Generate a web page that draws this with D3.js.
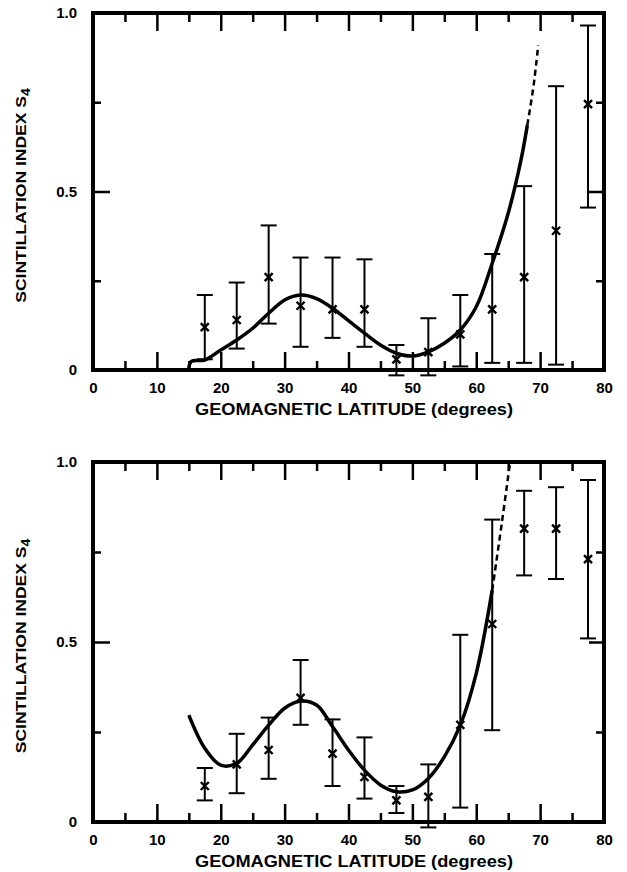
<!DOCTYPE html>
<html lang="en">
<head>
    <meta charset="UTF-8" />
    <title>Scintillation index vs geomagnetic latitude</title>
    <script src="https://d3js.org/d3.v7.min.js"></script>
    <style>
        body { margin: 0; background: #fff; }
        text { font-family: "Liberation Sans", Arial, sans-serif; font-weight: bold; fill: #000; }
    </style>
</head>

<body>
    <script>
        var w = 627;
        var h = 872;

        // Latitude bins (centre of each 5 degree bin)
        var latitudes = [17.5, 22.5, 27.5, 32.5, 37.5, 42.5, 47.5, 52.5, 57.5, 62.5, 67.5, 72.5, 77.5];

        // Upper panel
        var topMean  = [0.12, 0.14, 0.26, 0.18, 0.17, 0.17, 0.03, 0.05, 0.10, 0.17, 0.26, 0.39, 0.745];
        var topUpper = [0.21, 0.245, 0.405, 0.315, 0.315, 0.31, 0.07, 0.145, 0.21, 0.325, 0.515, 0.795, 0.965];
        var topLower = [0.03, 0.06, 0.13, 0.065, 0.09, 0.065, -0.015, -0.015, 0.01, 0.02, 0.02, 0.015, 0.455];
        var topCurveX = [15, 15.4, 17.5, 20, 22.5, 25, 27.5, 30, 32.5, 35, 37.5, 40, 42.5, 45, 47.5, 50, 52.5, 55, 57.5, 60, 62.5, 65, 67, 68];
        var topCurveY = [0.005, 0.024, 0.028, 0.056, 0.084, 0.117, 0.159, 0.196, 0.21, 0.20, 0.173, 0.138, 0.103, 0.07, 0.047, 0.039, 0.051, 0.075, 0.112, 0.177, 0.299, 0.439, 0.588, 0.686];
        var topDashX = [68, 69, 69.7];
        var topDashY = [0.686, 0.80, 0.91];

        // Lower panel
        var botMean  = [0.10, 0.16, 0.20, 0.345, 0.19, 0.125, 0.06, 0.07, 0.27, 0.55, 0.815, 0.815, 0.73];
        var botUpper = [0.15, 0.245, 0.29, 0.45, 0.285, 0.235, 0.10, 0.16, 0.52, 0.84, 0.92, 0.93, 0.95];
        var botLower = [0.06, 0.08, 0.12, 0.27, 0.10, 0.065, 0.025, -0.015, 0.04, 0.255, 0.685, 0.675, 0.51];
        var botCurveX = [15, 17.5, 20, 22.5, 25, 27.5, 30, 32.5, 35, 37.5, 40, 42.5, 45, 47.5, 50, 52.5, 55, 57.5, 60, 62.5];
        var botCurveY = [0.297, 0.205, 0.158, 0.163, 0.214, 0.269, 0.316, 0.336, 0.325, 0.265, 0.20, 0.144, 0.103, 0.084, 0.089, 0.121, 0.181, 0.269, 0.413, 0.644];
        var botDashX = [62.5, 64, 65.3];
        var botDashY = [0.644, 0.83, 1.0];

        // Ticks
        var xMajor = [0, 10, 20, 30, 40, 50, 60, 70, 80];
        var xMinor = [5, 15, 25, 35, 45, 55, 65, 75];
        var yMajor = [0, 0.5, 1.0];
        var yMinor = [0.25, 0.75];
        var yLabels = {"0": "0", "0.5": "0.5", "1": "1.0"};

        var xTitle = "GEOMAGNETIC LATITUDE (degrees)";

        var svg = d3.select("body")
            .append("svg")
            .attr("width", w)
            .attr("height", h);

        var xScale = d3.scaleLinear()
            .domain([0, 80])
            .range([93, 604]);

        function drawPanel(y0, y1, mean, upper, lower, cx, cy, dx, dy) {
            var yScale = d3.scaleLinear()
                .domain([0, 1])
                .range([y0, y1]);

            var g = svg.append("g");

            // bottom axis: major with labels, minor without
            g.append("g")
                .attr("transform", "translate(0," + y0 + ")")
                .call(d3.axisBottom(xScale).tickValues(xMajor).tickSize(-18).tickPadding(12))
                .call(styleAxis);
            g.append("g")
                .attr("transform", "translate(0," + y0 + ")")
                .call(d3.axisBottom(xScale).tickValues(xMinor).tickSize(-9).tickFormat(""))
                .call(styleAxis);

            // top axis ticks (inward)
            g.append("g")
                .attr("transform", "translate(0," + y1 + ")")
                .call(d3.axisTop(xScale).tickValues(xMajor.slice(1, -1)).tickSize(-18).tickFormat(""))
                .call(styleAxis);
            g.append("g")
                .attr("transform", "translate(0," + y1 + ")")
                .call(d3.axisTop(xScale).tickValues(xMinor).tickSize(-9).tickFormat(""))
                .call(styleAxis);

            // left axis
            g.append("g")
                .attr("transform", "translate(93,0)")
                .call(d3.axisLeft(yScale).tickValues(yMajor).tickSize(-17).tickPadding(16)
                    .tickFormat(function(d) { return yLabels[String(d)]; }))
                .call(styleAxis);
            g.append("g")
                .attr("transform", "translate(93,0)")
                .call(d3.axisLeft(yScale).tickValues(yMinor).tickSize(-8).tickFormat(""))
                .call(styleAxis);

            // right axis
            g.append("g")
                .attr("transform", "translate(604,0)")
                .call(d3.axisRight(yScale).tickValues([0.5]).tickSize(-15).tickFormat(""))
                .call(styleAxis);
            g.append("g")
                .attr("transform", "translate(604,0)")
                .call(d3.axisRight(yScale).tickValues(yMinor).tickSize(-8).tickFormat(""))
                .call(styleAxis);

            // frame
            g.append("rect")
                .attr("x", xScale(0))
                .attr("y", y1)
                .attr("width", xScale(80) - xScale(0))
                .attr("height", y0 - y1)
                .attr("fill", "none")
                .attr("stroke", "#000")
                .attr("stroke-width", 4);

            // error bars
            var bars = g.selectAll(".bar")
                .data(latitudes)
                .enter()
                .append("g")
                .attr("class", "bar");

            bars.append("line")
                .attr("x1", function(d) { return xScale(d); })
                .attr("x2", function(d) { return xScale(d); })
                .attr("y1", function(d, i) { return yScale(upper[i]); })
                .attr("y2", function(d, i) { return yScale(lower[i]); })
                .attr("stroke", "#000")
                .attr("stroke-width", 2);

            [upper, lower].forEach(function(arr) {
                bars.append("line")
                    .attr("x1", function(d) { return xScale(d) - 8; })
                    .attr("x2", function(d) { return xScale(d) + 8; })
                    .attr("y1", function(d, i) { return yScale(arr[i]); })
                    .attr("y2", function(d, i) { return yScale(arr[i]); })
                    .attr("stroke", "#000")
                    .attr("stroke-width", 2);
            });

            // x markers
            bars.append("path")
                .attr("d", function(d, i) {
                    var px = xScale(d), py = yScale(mean[i]), s = 4;
                    return "M" + (px - s) + "," + (py - s) + "L" + (px + s) + "," + (py + s) +
                        "M" + (px - s) + "," + (py + s) + "L" + (px + s) + "," + (py - s);
                })
                .attr("stroke", "#000")
                .attr("stroke-width", 2.4)
                .attr("fill", "none");

            // fitted curve
            var line = d3.line()
                .x(function(d) { return xScale(d[0]); })
                .y(function(d) { return yScale(d[1]); })
                .curve(d3.curveCatmullRom.alpha(0.5));

            g.append("path")
                .datum(d3.zip(cx, cy))
                .attr("d", line)
                .attr("fill", "none")
                .attr("stroke", "#000")
                .attr("stroke-width", 3.5);

            g.append("path")
                .datum(d3.zip(dx, dy))
                .attr("d", line)
                .attr("fill", "none")
                .attr("stroke", "#000")
                .attr("stroke-width", 2.5)
                .attr("stroke-dasharray", "6,4");

            // titles
            g.append("text")
                .attr("x", 354)
                .attr("y", y0 + 45)
                .attr("text-anchor", "middle")
                .attr("font-size", 16)
                .attr("textLength", 318)
                .attr("lengthAdjust", "spacingAndGlyphs")
                .text(xTitle);

            // y title, squeezed to the same length as the original lettering
            var yt = g.append("text")
                .attr("text-anchor", "middle")
                .attr("font-size", 15);
            yt.append("tspan").text("SCINTILLATION INDEX S");
            yt.append("tspan").attr("dy", 4).attr("font-size", 12).text("4");
            var len = yt.node().getBBox().width;
            var k = 215 / len;
            yt.attr("transform", "translate(26," + ((y0 + y1) / 2 + 4) + ") rotate(-90) scale(" + k + ",1)");
        }

        function styleAxis(sel) {
            sel.select(".domain").remove();
            sel.selectAll(".tick line").attr("stroke", "#000").attr("stroke-width", 2.5);
            sel.selectAll(".tick text")
                .attr("font-size", 15)
                .attr("font-family", "Liberation Sans, Arial, sans-serif")
                .attr("font-weight", "bold");
        }

        // Draw both panels
        drawPanel(370, 13, topMean, topUpper, topLower, topCurveX, topCurveY, topDashX, topDashY);
        drawPanel(822, 462, botMean, botUpper, botLower, botCurveX, botCurveY, botDashX, botDashY);
    </script>
</body>
</html>
